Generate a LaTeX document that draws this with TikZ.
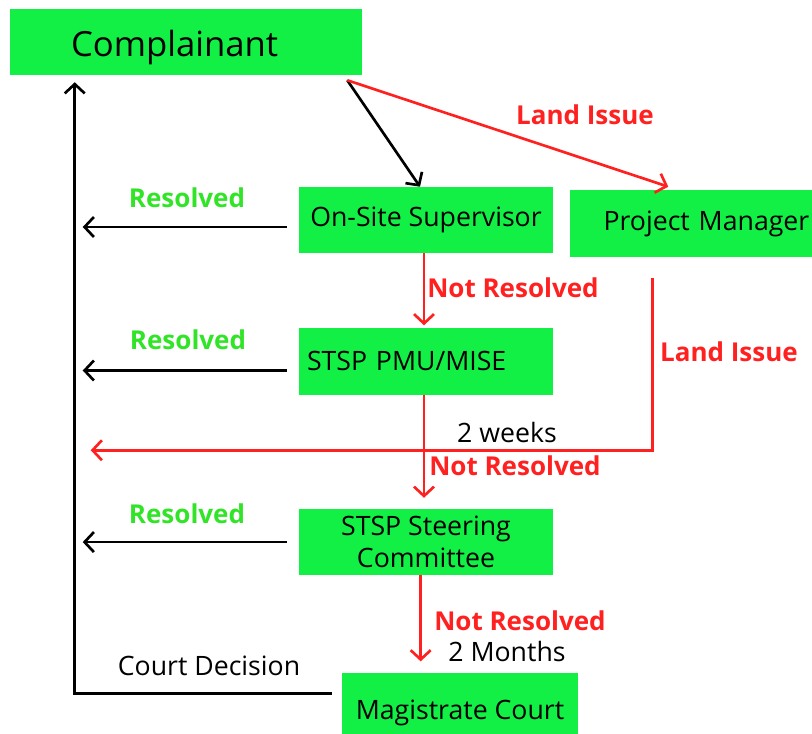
\documentclass[tikz,border=0pt]{standalone}
\usepackage{fontspec}
\setmainfont{Open Sans}
\usetikzlibrary{positioning,arrows.meta}

\definecolor{boxgreen}{RGB}{18,240,70}
\definecolor{okgreen}{RGB}{50,228,40}
\definecolor{nogo}{RGB}{255,32,32}

\tikzset{
  box/.style={fill=boxgreen, minimum height=49.5pt, inner sep=2pt, font=\fontsize{20}{24}\selectfont},
  ok/.style={text=okgreen, font=\fontsize{19.5}{23}\selectfont\bfseries},
  nok/.style={text=nogo, font=\fontsize{19.5}{23}\selectfont\bfseries},
  note/.style={font=\fontsize{20}{24}\selectfont},
  flow/.style={line width=2pt, -{Straight Barb[length=7pt,width=15pt]}},
}

\begin{document}
\begin{tikzpicture}[x=0.75pt, y=0.75pt]
  \useasboundingbox (0,0) rectangle (812,733);
  % boxes
  \node[box, inner xsep=45.75pt, text width=172.5pt, text height=28pt, text depth=6pt, align=left, font=\fontsize{26}{31}\selectfont] (comp) at (186,691) {Complainant};
  \node[box, minimum width=190.5pt] (sup) at (426,513) {On-Site Supervisor};
  \node[box, right=12pt of sup, yshift=-2.6pt, minimum height=50.25pt, inner xsep=25.5pt, text width=180pt, align=left] (pm) {Project Manager};
  \node[box, below=55.5pt of sup, minimum height=50.25pt, inner xsep=6pt, text width=178.5pt, align=left] (pmu) {STSP PMU/MISE};
  \node[box, below=85.5pt of pmu, minimum width=190.5pt, align=center] (steer) {STSP Steering\\Committee};
  \node[box, below=72.75pt of steer, xshift=25.5pt, minimum width=177pt, minimum height=60pt] (court) {Magistrate Court};
  \coordinate (rail) at ([xshift=48.75pt]comp.south west);
  \coordinate (fork) at ([xshift=-11.25pt,yshift=-3.75pt]comp.south east);

  % labels
  \node[nok] (land1) at (585,618) {Land Issue};
  \node[nok] (land2) at (729,381) {Land Issue};
  \node[ok] (res1) at (187,535) {Resolved};
  \node[ok] (res2) at (188,393) {Resolved};
  \node[ok] (res3) at (187,219) {Resolved};
  \node[nok] (nres1) at (513,445) {Not Resolved};
  \node[nok] (nres2) at (515,267) {Not Resolved};
  \node[nok] (nres3) at (520,112) {Not Resolved};
  \node[note] (wks) at (507,301) {2 weeks};
  \node[note] (mths) at (507,82) {2 Months};
  \node[note] (dec) at (209,67) {Court Decision};

  % connectors
  \draw[flow] (fork) -- ([xshift=-4.5pt]sup.north);
  \draw[flow, nogo] (fork) -- ([xshift=74.25pt,yshift=2.25pt]pm.north west);
  \draw[flow, nogo, shorten >=1.5pt] ([xshift=-1.5pt]sup.south) -- ([xshift=-1.5pt]pmu.north);
  \draw[flow, nogo, shorten >=8.25pt] ([xshift=-1.5pt]pmu.south) -- ([xshift=-1.5pt]steer.north);
  \draw[flow, nogo, shorten >=8.25pt] ([xshift=-4pt]steer.south) coordinate (s3) -- (s3 |- court.north);
  \draw[flow] ([xshift=-9pt,yshift=-5.25pt]sup.west) coordinate (r1) -- ([xshift=6pt]rail |- r1);
  \draw[flow] ([xshift=-9pt,yshift=-7.1pt]pmu.west) coordinate (r2) -- ([xshift=6pt]rail |- r2);
  \draw[flow] ([xshift=-9pt]steer.west) coordinate (r3) -- ([xshift=6pt]rail |- r3);
  \draw[flow, nogo] ([xshift=62.25pt,yshift=-15.75pt]pm.south west) -- ++(0,-129pt) coordinate (lc) -- ([xshift=12pt]rail |- lc);
  \draw[flow, shorten >=5.25pt] ([xshift=-7.5pt,yshift=14.25pt]court.west) -| (rail);
\end{tikzpicture}
\end{document}
